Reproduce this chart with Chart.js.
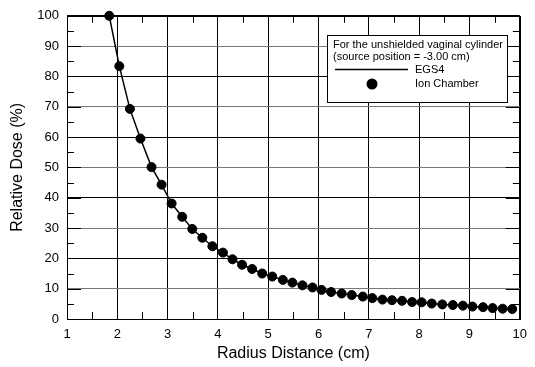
<!DOCTYPE html>
<html>
<head>
<meta charset="utf-8">
<script src="https://cdn.jsdelivr.net/npm/chart.js@4.4.0/dist/chart.umd.min.js"></script>
<style>
  body { margin: 0; background: #fff; }
</style>
</head>
<body>
<canvas id="doseChart" width="535" height="367"></canvas>
<script>
// values
const radius = [1.84, 2.04, 2.25, 2.46, 2.68, 2.88, 3.08, 3.29, 3.49, 3.69, 3.89,
    4.10, 4.29, 4.48, 4.68, 4.88, 5.08, 5.29, 5.48, 5.68, 5.88,
    6.06, 6.25, 6.46, 6.66, 6.88, 7.07, 7.27, 7.46, 7.66, 7.86,
    8.05, 8.25, 8.46, 8.67, 8.87, 9.06, 9.27, 9.46, 9.66, 9.85];
const ionChamber = [100, 83.4, 69.3, 59.5, 50.1, 44.3, 38.1, 33.7, 29.7, 26.8, 24.0,
    21.9, 19.7, 17.9, 16.5, 15.0, 14.0, 12.9, 12.0, 11.1, 10.4,
    9.6, 8.9, 8.4, 7.9, 7.4, 6.9, 6.4, 6.2, 6.0, 5.6,
    5.5, 5.1, 4.8, 4.6, 4.4, 4.1, 3.9, 3.6, 3.4, 3.3];
const egs4 = ionChamber.slice();
const legendLines = ['For the unshielded vaginal cylinder', '(source position = -3.00 cm)'];
const seriesNames = ['EGS4', 'Ion Chamber'];

const fontFamily = '"Liberation Sans", Arial, sans-serif';

function toPoints(xs, ys) {
    return xs.map((x, i) => ({x: x, y: ys[i]}));
}

// inner tick marks and frame, like the original plot
const frameTicks = {
    id: 'frameTicks',
    afterDatasetsDraw(chart) {
        const ctx = chart.ctx;
        const a = chart.chartArea;
        const xs = chart.scales.x;
        const ys = chart.scales.y;
        ctx.save();
        ctx.strokeStyle = '#000';
        ctx.lineWidth = 1;
        ctx.beginPath();
        for (let v = 1.5; v < 10; v += 1) {
            const px = Math.round(xs.getPixelForValue(v)) + 0.5;
            ctx.moveTo(px, a.bottom); ctx.lineTo(px, a.bottom - 7);
            ctx.moveTo(px, a.top); ctx.lineTo(px, a.top + 7);
        }
        for (let v = 0; v <= 100; v += 5) {
            const len = v % 10 === 0 ? 14 : 7;
            const py = Math.round(ys.getPixelForValue(v)) + 0.5;
            ctx.moveTo(a.left, py); ctx.lineTo(a.left + len, py);
            ctx.moveTo(a.right, py); ctx.lineTo(a.right - len, py);
        }
        ctx.stroke();
        ctx.strokeRect(Math.round(a.left) + 0.5, Math.round(a.top) + 0.5,
            Math.round(a.right - a.left), Math.round(a.bottom - a.top));
        ctx.restore();
    }
};

const legendBox = {
    id: 'legendBox',
    afterDraw(chart) {
        const ctx = chart.ctx;
        ctx.save();
        ctx.fillStyle = '#fff';
        ctx.fillRect(327.5, 35.5, 180, 67);
        ctx.strokeStyle = '#000';
        ctx.lineWidth = 1;
        ctx.strokeRect(327.5, 35.5, 180, 67);
        ctx.fillStyle = '#000';
        ctx.font = '11px ' + fontFamily;
        ctx.textBaseline = 'middle';
        ctx.fillText(legendLines[0], 333, 45);
        ctx.fillText(legendLines[1], 333, 57);
        ctx.lineWidth = 1.5;
        ctx.beginPath();
        ctx.moveTo(335, 69.5);
        ctx.lineTo(408, 69.5);
        ctx.stroke();
        ctx.fillText(seriesNames[0], 415, 70);
        ctx.beginPath();
        ctx.arc(372, 84, 5.5, 0, Math.PI * 2);
        ctx.fill();
        ctx.fillText(seriesNames[1], 415, 84);
        ctx.restore();
    }
};

const ctx = document.getElementById('doseChart').getContext('2d');
new Chart(ctx, {
    type: 'scatter',
    data: {
        datasets: [{
            label: seriesNames[0],
            data: toPoints(radius, egs4),
            showLine: true,
            borderColor: '#000',
            borderWidth: 1.5,
            pointRadius: 0,
            tension: 0
        }, {
            label: seriesNames[1],
            data: toPoints(radius, ionChamber),
            showLine: false,
            backgroundColor: '#000',
            borderColor: '#000',
            pointRadius: 4.5,
            clip: false
        }]
    },
    options: {
        responsive: false,
        animation: false,
        layout: {
            padding: {top: 13, right: 9, left: 0, bottom: 0}
        },
        plugins: {
            legend: {display: false},
            tooltip: {enabled: false}
        },
        scales: {
            x: {
                type: 'linear',
                min: 1,
                max: 10,
                afterFit: scale => { scale.height = 48; },
                ticks: {
                    stepSize: 1,
                    autoSkip: false,
                    maxRotation: 0,
                    padding: 8,
                    color: '#000',
                    font: {family: fontFamily, size: 13}
                },
                grid: {color: '#000', lineWidth: 1, drawTicks: false},
                border: {display: false},
                title: {
                    display: true,
                    text: 'Radius Distance (cm)',
                    color: '#000',
                    font: {family: fontFamily, size: 16},
                    padding: {top: 0, bottom: 4}
                }
            },
            y: {
                min: 0,
                max: 100,
                afterFit: scale => { scale.width = 67; },
                ticks: {
                    stepSize: 10,
                    autoSkip: false,
                    padding: 8,
                    color: '#000',
                    font: {family: fontFamily, size: 13}
                },
                grid: {
                    color: c => (c.tick && c.tick.value % 20 === 10) ? '#777' : '#000',
                    lineWidth: 1,
                    drawTicks: false
                },
                border: {display: false},
                title: {
                    display: true,
                    text: 'Relative Dose (%)',
                    color: '#000',
                    font: {family: fontFamily, size: 16},
                    padding: {top: 8, bottom: 0}
                }
            }
        }
    },
    plugins: [frameTicks, legendBox]
});
</script>
</body>
</html>
